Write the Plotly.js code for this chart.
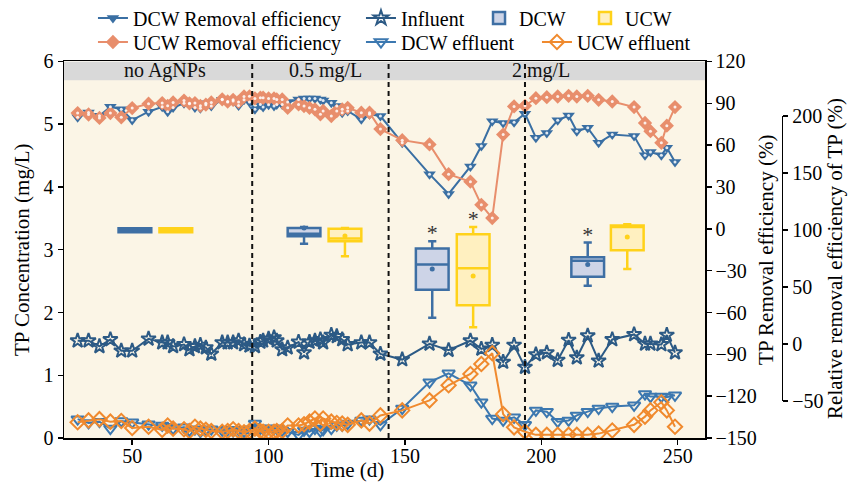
<!DOCTYPE html>
<html>
<head>
<meta charset="utf-8">
<script src="https://cdn.plot.ly/plotly-3.0.1.min.js"></script>
<style>html,body{margin:0;padding:0;background:#fff;}</style>
</head>
<body>
<div id="chart" style="width:856px;height:486px;"></div>
<script>
// ---- data ----
const days = [30,34,38,42,46,50,56,61,63,65,69,71,73,75,77,79,83,85,87,89,91,93,
  95,97,98,100,102,103,105,107,111,113,115,117,119,120,123,125,127,129,134,137,141,
  149,159,166,174,178,182,186,190,194,198,202,206,210,213,217,221,226,234,238,240,244,246,249];

const influent = [1.55,1.55,1.46,1.57,1.39,1.39,1.58,1.52,1.52,1.46,1.49,1.41,1.46,1.48,1.44,1.34,1.52,1.52,1.52,1.55,1.49,1.47,
  1.46,1.53,1.55,1.58,1.60,1.55,1.41,1.44,1.53,1.36,1.53,1.55,1.57,1.52,1.64,1.62,1.57,1.49,1.52,1.52,1.34,
  1.25,1.50,1.40,1.55,1.42,1.48,1.21,1.48,1.13,1.33,1.36,1.24,1.56,1.28,1.63,1.23,1.57,1.65,1.50,1.50,1.49,1.64,1.36];

const dcwEffluent = [0.30,0.24,0.26,0.15,0.27,0.25,0.22,0.20,0.18,0.15,0.17,0.12,0.14,0.10,0.13,0.14,0.12,0.13,0.11,0.13,0.10,0.14,
  0.23,0.15,0.15,0.15,0.15,0.15,0.12,0.10,0.05,0.12,0.10,0.15,0.11,0.13,0.15,0.20,0.20,0.23,0.28,0.30,0.21,
  0.47,0.89,1.03,0.84,0.57,0.31,0.28,0.33,0.21,0.44,0.42,0.26,0.28,0.36,0.42,0.47,0.50,0.52,0.70,0.66,0.66,0.65,0.68];

const ucwEffluent = [0.25,0.28,0.30,0.26,0.27,0.16,0.18,0.13,0.20,0.15,0.14,0.11,0.18,0.15,0.13,0.11,0.10,0.11,0.14,0.11,0.09,0.11,
  0.15,0.11,0.10,0.10,0.10,0.11,0.11,0.20,0.20,0.22,0.26,0.31,0.23,0.31,0.26,0.24,0.23,0.21,0.28,0.23,0.36,
  0.44,0.60,0.84,1.02,1.18,1.35,0.38,0.17,0.10,0.05,0.05,0.05,0.05,0.05,0.05,0.07,0.12,0.21,0.34,0.44,0.57,0.44,0.18];

const dcwRemoval = [80,83.5,81,87.5,85.8,78,84,87.5,84,87,90,89.7,87,86.5,90,88,92.5,91,91.6,88.5,92.5,91,
  85.7,89.2,87.3,89,88,89.2,89.2,91,92.8,93.5,93.5,93.5,92.8,92,90.4,88,83.3,84.5,78.6,82.1,80.9,
  61.7,39.2,25.0,44.7,59.4,77.1,75.9,76.4,82.6,65.3,68.8,77.8,81.2,70,72.4,61.7,67.6,66.5,52.7,55.1,52.7,58.2,48];

const ucwRemoval = [83,82,79.5,83,80,86.6,89.7,90.2,88.2,90.6,92,90,90.2,88.2,89,90.6,92.9,91.3,92.5,91,94.9,95,
  93.5,94,94,93.5,93.5,92.8,92.8,86.8,89.2,88,86.8,85.7,82.1,84.5,80.9,84.5,85.7,86.8,83.3,83.3,71.5,
  63.6,60.5,39.2,33.8,17.2,7.7,67.6,87.8,88.2,93.7,94.4,94.9,95.4,94.9,95.4,92.5,91.3,87.3,75.9,70,61.7,74,87.3];

// relative removal efficiency boxes (precomputed statistics)
const dcwBoxX = [51, 113, 160, 217];
const dcwQ1 = [98, 94.5, 47.5, 59];
const dcwMedian = [100, 96.8, 69.8, 73];
const dcwQ3 = [101.5, 101.7, 83.8, 76];
const dcwLower = [98, 88, 23, 51];
const dcwUpper = [101.5, 102.6, 90.2, 89];
const dcwMean = [100, 101.7, 65.8, 69.8];

const ucwBoxX = [66, 128, 175, 231.5];
const ucwQ1 = [98, 90, 34, 82.3];
const ucwMedian = [100, 92.5, 66.3, 102.6];
const ucwQ3 = [101.5, 101, 96.2, 104];
const ucwLower = [98, 77, 14.5, 65.8];
const ucwUpper = [101.5, 101.7, 102.6, 105];
const ucwMean = [100, 94.8, 59.7, 93.9];

const starX = [160, 175, 217];
const starY = [96, 108, 94];

const phaseLabels = ['no AgNPs', '0.5 mg/L', '2 mg/L'];
const phaseLabelX = [62, 121, 200];
const phaseBounds = [94, 144, 194];

// ---- colours ----
const cDcwRE = '#3A6FA3', cUcwRE = '#E88E6C', cInf = '#2C5A85', cDcwEff = '#3C78B0', cUcwEff = '#F08A2E';
const cDcwBox = '#3E6FA4', cDcwFill = '#CDD4E7', cUcwBox = '#FFD21A', cUcwFill = '#FFF0C0';

const traces = [
  {type:'scatter', mode:'lines+markers', name:'DCW Removal efficiency', x:days, y:dcwRemoval, yaxis:'y2',
   line:{color:cDcwRE, width:2}, marker:{symbol:'triangle-down', size:11, color:cDcwRE}, legend:'legend'},
  {type:'scatter', mode:'lines+markers', name:'Influent', x:days, y:influent,
   line:{color:cInf, width:2}, marker:{symbol:'star-open', size:11, color:cInf, line:{width:2}}, legend:'legend3'},
  {type:'box', name:'DCW', orientation:'v', x:dcwBoxX, q1:dcwQ1, median:dcwMedian, q3:dcwQ3,
   lowerfence:dcwLower, upperfence:dcwUpper, xaxis:'x', yaxis:'y3', width:12, whiskerwidth:0.25,
   fillcolor:cDcwFill, line:{color:cDcwBox, width:2.5}, boxpoints:false, hoverinfo:'skip', legend:'legend4'},
  {type:'box', name:'UCW', orientation:'v', x:ucwBoxX, q1:ucwQ1, median:ucwMedian, q3:ucwQ3,
   lowerfence:ucwLower, upperfence:ucwUpper, xaxis:'x', yaxis:'y3', width:12, whiskerwidth:0.25,
   fillcolor:cUcwFill, line:{color:cUcwBox, width:2.5}, boxpoints:false, hoverinfo:'skip', legend:'legend5'},
  {type:'scatter', mode:'lines+markers', name:'UCW Removal efficiency', x:days, y:ucwRemoval, yaxis:'y2',
   line:{color:cUcwRE, width:2}, marker:{symbol:'diamond', size:11, color:cUcwRE}, legend:'legend2'},
  {type:'scatter', mode:'lines+markers', name:'DCW effluent', x:days, y:dcwEffluent,
   line:{color:cDcwEff, width:2}, marker:{symbol:'triangle-down-open', size:11, color:cDcwEff, line:{width:2}}, legend:'legend6'},
  {type:'scatter', mode:'lines+markers', name:'UCW effluent', x:days, y:ucwEffluent,
   line:{color:cUcwEff, width:2}, marker:{symbol:'diamond-open', size:11, color:cUcwEff, line:{width:2}}, legend:'legend7'},
  // light centre dots of the filled removal-efficiency markers
  {type:'scatter', mode:'markers', x:days, y:dcwRemoval, yaxis:'y2', showlegend:false, hoverinfo:'skip',
   marker:{symbol:'circle', size:3, color:'rgba(255,255,255,0.85)'}},
  {type:'scatter', mode:'markers', x:days, y:ucwRemoval, yaxis:'y2', showlegend:false, hoverinfo:'skip',
   marker:{symbol:'circle', size:3, color:'rgba(255,255,255,0.85)'}},
  {type:'scatter', mode:'markers', x:dcwBoxX, y:dcwMean, xaxis:'x', yaxis:'y3', showlegend:false,
   marker:{size:5, color:cDcwBox}, hoverinfo:'skip'},
  {type:'scatter', mode:'markers', x:ucwBoxX, y:ucwMean, xaxis:'x', yaxis:'y3', showlegend:false,
   marker:{size:5, color:cUcwBox}, hoverinfo:'skip'},
  {type:'scatter', mode:'text', x:starX, y:starY, xaxis:'x', yaxis:'y3', text:starX.map(()=>'*'),
   textposition:'middle center', textfont:{size:22, color:'#333'}, showlegend:false, hoverinfo:'skip'}
];

const shapes = [
  {type:'rect', xref:'x domain', yref:'y domain', x0:0, x1:1, y0:0, y1:1, fillcolor:'#FBF5E6', line:{width:0}, layer:'below'},
  {type:'rect', xref:'x domain', yref:'y', x0:0, x1:1, y0:5.7, y1:6, fillcolor:'#D9D9D9', line:{width:0}, layer:'below'}
].concat(phaseBounds.map(b => ({type:'line', xref:'x', yref:'y domain', x0:b, x1:b, y0:0, y1:1,
  line:{color:'#111', width:2, dash:'5px,4px'}, layer:'above'})));

const annotations = phaseLabels.map((t,i) => ({x:phaseLabelX[i], y:5.85, xref:'x', yref:'y', text:t,
  showarrow:false, font:{size:20, color:'#111'}})).concat([
  {x:0.363, y:-0.084, xref:'paper', yref:'paper', text:'Time (d)', showarrow:false,
   xanchor:'center', yanchor:'middle', font:{size:21, color:'#000'}}
]);

const axisCommon = {showline:true, linecolor:'#000', linewidth:1.5, ticks:'outside', ticklen:5, tickwidth:1.5,
  tickcolor:'#000', showgrid:false, zeroline:false, tickfont:{size:20}};

function leg(x, y) {
  return {orientation:'h', x:x, xref:'container', xanchor:'left', y:y, yref:'container', yanchor:'middle',
    bgcolor:'rgba(0,0,0,0)', font:{size:20}, traceorder:'normal'};
}

const layout = {
  width:856, height:486,
  margin:{l:64, r:10, t:58, b:48},
  font:{family:'"Liberation Serif", "Times New Roman", serif', size:20, color:'#000'},
  paper_bgcolor:'#fff', plot_bgcolor:'rgba(0,0,0,0)',
  boxmode:'overlay',
  xaxis:Object.assign({}, axisCommon, {domain:[0, 0.8197], range:[25,260], tickvals:[50,100,150,200,250],
    mirror:true, ticklabelstandoff:-6, automargin:false}),
  yaxis:Object.assign({}, axisCommon, {range:[0,6], dtick:1, automargin:false,
    title:{text:'TP Concentration (mg/L)', font:{size:21}, standoff:8}}),
  yaxis2:Object.assign({}, axisCommon, {overlaying:'y', side:'right', anchor:'x', range:[-150,120], dtick:30,
    automargin:false, title:{text:'TP Removal efficiency (%)', font:{size:21}, standoff:2}}),
  yaxis3:Object.assign({}, axisCommon, {anchor:'free', position:0.9178, side:'right', domain:[0.0987, 0.855],
    range:[-50,200], dtick:50, automargin:false,
    title:{text:'Relative removal efficiency of TP (%)', font:{size:21}, standoff:4}}),
  legend:leg(0.1086, 0.963),
  legend3:leg(0.4217, 0.963),
  legend4:leg(0.5596, 0.963),
  legend5:leg(0.6834, 0.963),
  legend2:leg(0.1086, 0.9136),
  legend6:leg(0.4217, 0.9136),
  legend7:leg(0.6273, 0.9136),
  shapes:shapes,
  annotations:annotations,
  showlegend:true
};

Plotly.newPlot('chart', traces, layout, {displayModeBar:false, staticPlot:true});
</script>
</body>
</html>
